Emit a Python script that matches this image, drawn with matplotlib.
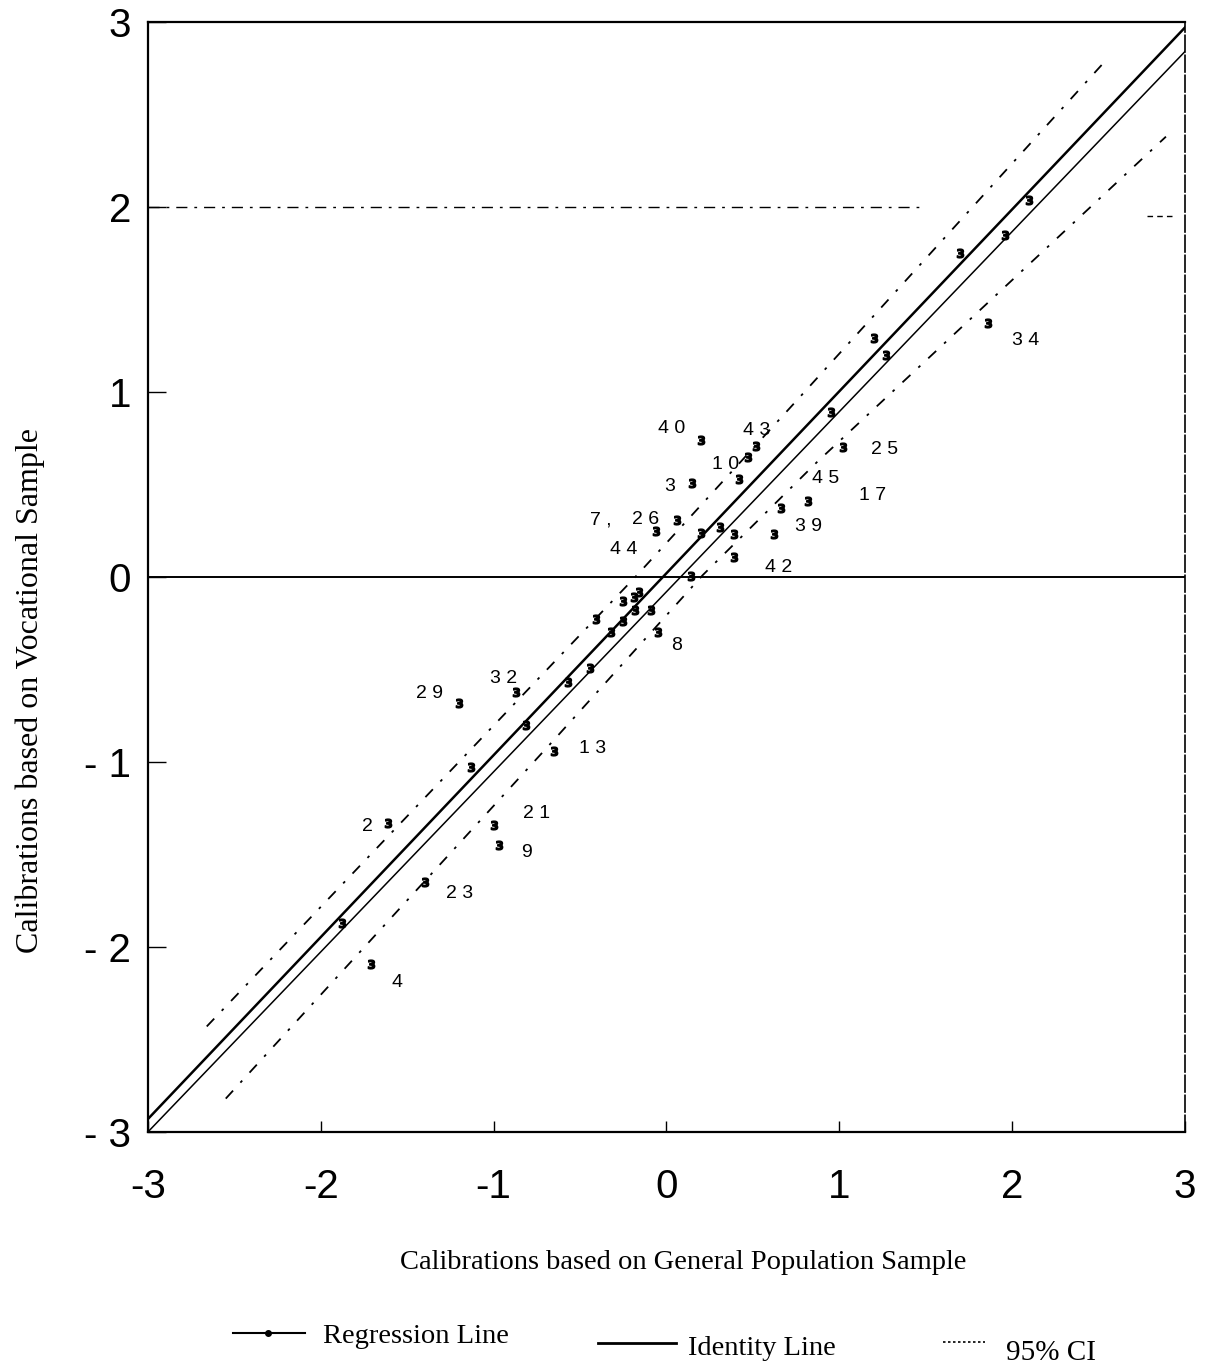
import numpy as np
import matplotlib
matplotlib.use("Agg")
import matplotlib.pyplot as plt
from matplotlib.lines import Line2D

# item calibrations (general population sample vs vocational sample)
gen_x = [0.20, 0.52, 0.47, 0.42, 0.15, 0.06, -0.06, 0.20, 0.31, 0.39, 0.39, 0.14,
         0.62, 0.66, 0.82, 1.02, 0.95, -0.16, -0.25, -0.19, -0.18, -0.09, -0.41,
         -0.25, -0.32, -0.05, -0.44, -0.57, -0.87, -1.20, -0.81, -0.65, -1.13,
         -1.00, -0.97, -1.61, -1.40, -1.88, -1.71, 2.10, 1.96, 1.70, 1.86, 1.20, 1.27]
voc_y = [0.74, 0.71, 0.65, 0.53, 0.51, 0.31, 0.25, 0.24, 0.27, 0.23, 0.11, 0.005,
         0.23, 0.37, 0.41, 0.70, 0.89, -0.08, -0.13, -0.11, -0.18, -0.18, -0.23,
         -0.24, -0.30, -0.30, -0.49, -0.57, -0.62, -0.68, -0.80, -0.94, -1.03,
         -1.34, -1.45, -1.33, -1.65, -1.87, -2.09, 2.04, 1.85, 1.75, 1.37, 1.29, 1.20]

# item number labels
lab_text = ["4 0", "4 3", "1 0", "3", "7 ,", "2 6", "4 4", "4 5", "1 7", "2 5", "3 9",
            "4 2", "8", "3 2", "2 9", "1 3", "2 1", "9", "2", "2 3", "4", "3 4"]
lab_x = [0.03, 0.52, 0.34, 0.02, -0.38, -0.12, -0.25, 0.92, 1.19, 1.26, 0.82,
         0.65, 0.06, -0.94, -1.37, -0.43, -0.75, -0.81, -1.73, -1.20, -1.56, 2.08]
lab_y = [0.80, 0.79, 0.61, 0.49, 0.31, 0.31, 0.15, 0.53, 0.44, 0.69, 0.27,
         0.05, -0.37, -0.55, -0.63, -0.93, -1.28, -1.49, -1.35, -1.71, -2.19, 1.28]

# lines
ident_x = [-3, 3]
ident_y = [-2.93, 2.97]
reg_x = [-3, 3]
reg_y = [-3.0, 2.84]
ci_up_x = [-2.66, -0.17, 0.75, 2.54]
ci_up_y = [-2.43, 0.01, 0.95, 2.79]
ci_lo_x = [-2.55, -0.65, 0.21, 0.87, 2.89]
ci_lo_y = [-2.82, -0.88, 0.01, 0.62, 2.38]

ticks = [-3, -2, -1, 0, 1, 2, 3]
xtick_labels = ["-3", "-2", "-1", "0", "1", "2", "3"]
ytick_labels = ["- 3", "- 2", "- 1", "0", "1", "2", "3"]

fig = plt.figure(figsize=(12.1, 13.72), dpi=100)
ax = fig.add_axes([0.1223, 0.175, 0.857, 0.809])
ax.set_xlim(-3, 3)
ax.set_ylim(-3, 3)

ax.plot(ident_x, ident_y, color="black", lw=1.8)
ax.plot(reg_x, reg_y, color="black", lw=1.1)
ax.plot(ci_up_x, ci_up_y, color="black", lw=1.3, linestyle=(0, (6, 6, 1.5, 6)))
ax.plot(ci_lo_x, ci_lo_y, color="black", lw=1.3, linestyle=(0, (6, 6, 1.5, 6)))

ax.axhline(0, color="black", lw=1.4)
ax.plot([-3, 1.47], [2, 2], color="black", lw=1.0, linestyle=(0, (8, 5, 2, 5)))
ax.plot([2.78, 2.95], [1.95, 1.95], color="black", lw=1.0, linestyle=(0, (4, 3)))

ax.scatter(gen_x, voc_y, marker=r"$\mathbf{3}$", s=40, color="black", zorder=3)

for t, x, y in zip(lab_text, lab_x, lab_y):
    ax.text(x, y, t, fontsize=14, family="Liberation Sans", ha="center", va="center")

ax.set_xticks(ticks)
ax.set_yticks(ticks)
ax.set_xticklabels(xtick_labels, fontsize=29, family="Liberation Sans")
ax.set_yticklabels(ytick_labels, fontsize=29, family="Liberation Sans")
ax.tick_params(axis="x", direction="in", length=8, width=1, pad=26)
ax.tick_params(axis="y", direction="in", length=13, width=1, pad=12)
for s in ax.spines.values():
    s.set_linewidth(1.6)
ax.spines["right"].set_linestyle((0, (10, 2)))
ax.spines["right"].set_linewidth(1.2)

fig.text(0.565, 0.080, "Calibrations based on General Population Sample",
         fontsize=20.5, family="Liberation Serif", ha="center", va="center")
fig.text(0.025, 0.497, "Calibrations based on Vocational Sample",
         fontsize=23, family="Liberation Serif", ha="center", va="center", rotation=90)

# legend drawn by hand under the chart
fig.add_artist(Line2D([0.1926, 0.2215, 0.252], [0.0284, 0.0284, 0.0284], color="black",
                      lw=1.5, marker="o", markersize=4, markevery=[1],
                      transform=fig.transFigure))
fig.text(0.267, 0.0262, "Regression Line", fontsize=20.5, family="Liberation Serif",
         va="center")
fig.add_artist(Line2D([0.494, 0.559], [0.0211, 0.0211], color="black", lw=2,
                      transform=fig.transFigure))
fig.text(0.569, 0.0168, "Identity Line", fontsize=20.5, family="Liberation Serif",
         va="center")
fig.add_artist(Line2D([0.779, 0.814], [0.0219, 0.0219], color="black", lw=1.2,
                      linestyle=(0, (1.5, 1.5)), transform=fig.transFigure))
fig.text(0.831, 0.0138, "95% CI", fontsize=21, family="Liberation Serif", va="center")

fig.savefig("out.png", dpi=100, facecolor="white")
